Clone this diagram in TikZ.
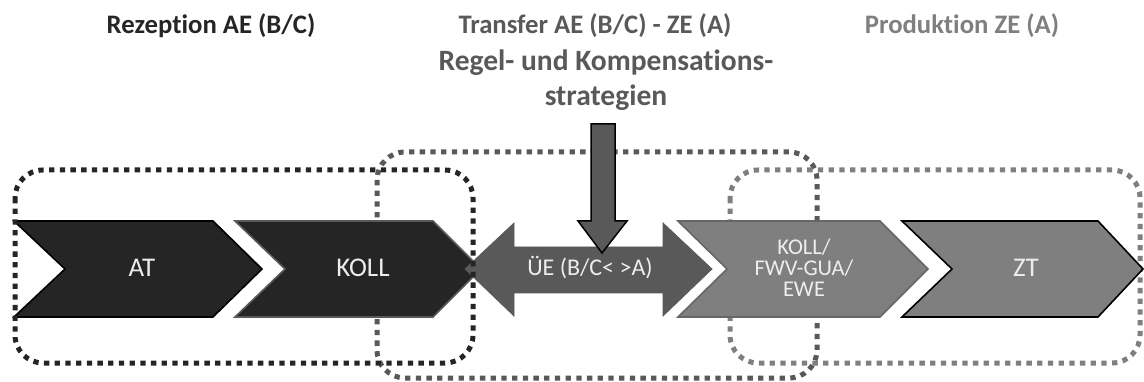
\documentclass[tikz,border=0pt]{standalone}
\usepackage{fontspec}
\setmainfont{Carlito}[Ligatures=NoCommon]
\definecolor{cdark}{HTML}{252525}
\definecolor{cmid}{HTML}{595959}
\definecolor{clight}{HTML}{7F7F7F}
\definecolor{cedge}{HTML}{666666}
\tikzset{
  title/.style={font=\bfseries\fontsize{26.7}{32}\selectfont},
  lbl/.style={text=white!93!black, font=\fontsize{27}{30}\selectfont, align=center},
  frame/.style={line width=5pt, dash pattern=on 5.3pt off 5.4pt, rounded corners=28pt},
  chev/.style={line width=1.6pt, line join=miter},
}
\begin{document}
\begin{tikzpicture}[x=1pt,y=-1pt]
	\useasboundingbox (0,0) rectangle (1144,382);
	% headings
	\node [title, text=cdark] (rez) at (211,26) {Rezeption AE (B/C)};
	\node [title, text=cmid] (trans) at (595,26) {Transfer AE (B/C) - ZE (A)};
	\node [title, text=cmid, font=\bfseries\fontsize{29.5}{35}\selectfont, align=center] (regel) at (606,80) {Regel- und Kompensations-\\strategien};
	\node [title, text=clight] (prod) at (962,26) {Produktion ZE (A)};
	% frames behind the chevrons
	\draw [frame, cmid] (377,152) rectangle (817,378);
	\draw [frame, clight] (730,170) rectangle (1140,363);
	% chevrons
	\filldraw [chev, fill=cdark, draw=black] (14,221) -- (213,221) -- (262,269) -- (213,317) -- (14,317) -- (65,269) -- cycle;
	\filldraw [chev, fill=cdark, draw=cmid] (235,221) -- (433,221) -- (481,269) -- (433,317) -- (235,317) -- (285,269) -- cycle;
	\filldraw [chev, fill=clight, draw=cedge] (678,221) -- (880,221) -- (928,269) -- (880,317) -- (678,317) -- (727,269) -- cycle;
	\filldraw [chev, fill=clight, draw=black] (902,221) -- (1098,221) -- (1143,269) -- (1098,317) -- (902,317) -- (952,269) -- cycle;
	% double arrow
	\filldraw [fill=cmid, draw=cmid, line width=0.8pt] (465,269) -- (514,223) -- (514,247) -- (663,247) -- (663,223) -- (712,269)
		-- (663,316) -- (663,293) -- (514,293) -- (514,316) -- cycle;
	% arrow from above
	\filldraw [fill=cmid, draw=black, line width=1.5pt] (591,124) -- (615,124) -- (615,221) -- (627,221) -- (602,253) -- (578,221) -- (591,221) -- cycle;
	% front frame
	\draw [frame, cdark] (15,170) rectangle (473,363);
	% labels
	\node [lbl] (at) at (142,268) {AT};
	\node [lbl] (koll) at (363,268) {KOLL};
	\node [lbl, font=\fontsize{24}{28}\selectfont] (ue) at (590,268) {ÜE (B/C< >A)};
	\node [lbl, font=\fontsize{22.5}{21}\selectfont] (fwv) at (804,268) {KOLL/\\FWV-GUA/\\EWE};
	\node [lbl] (zt) at (1026,268) {ZT};
\end{tikzpicture}
\end{document}
